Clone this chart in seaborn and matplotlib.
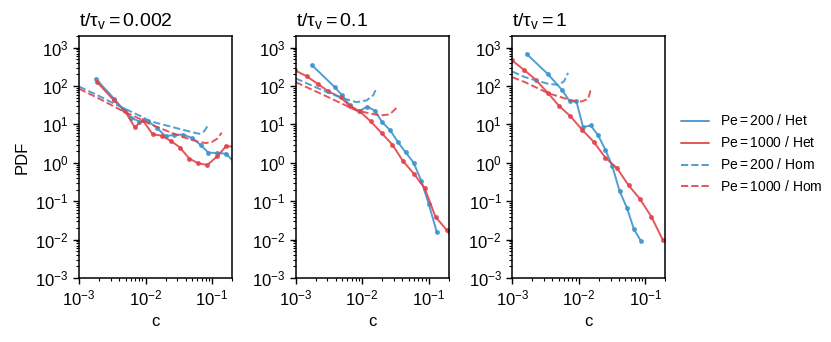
import numpy as np
import pandas as pd
import matplotlib
matplotlib.use("Agg")
import matplotlib.pyplot as plt
from matplotlib.lines import Line2D
from matplotlib.ticker import LogLocator, NullFormatter
import seaborn as sns

sns.set_style("ticks")
plt.rcParams['font.family'] = ['Liberation Sans', 'DejaVu Sans']
plt.rcParams['mathtext.fontset'] = 'custom'
plt.rcParams['mathtext.rm'] = 'Liberation Sans'
plt.rcParams['mathtext.it'] = 'Liberation Sans:italic'
plt.rcParams['mathtext.bf'] = 'Liberation Sans:bold'
for key in ['text.color', 'axes.labelcolor', 'xtick.color', 'ytick.color', 'axes.edgecolor']:
    plt.rcParams[key] = 'black'

# panel titles (t / tau_v)
times = ['0.002', '0.1', '1']

# ---- t/tau_v = 0.002 ----
c_het200_a = [0.00179, 0.00336, 0.00458, 0.00612, 0.0081, 0.0108, 0.01475, 0.020, 0.027, 0.0369, 0.0508, 0.0678, 0.088, 0.12, 0.163, 0.22]
p_het200_a = [154, 47, 25, 15, 11.8, 12.2, 8.2, 4.9, 5.4, 5.4, 4.4, 2.9, 1.84, 1.8, 1.73, 1.0]
c_het1000_a = [0.00187, 0.00336, 0.00486, 0.00686, 0.00912, 0.01285, 0.0175, 0.0242, 0.033, 0.0454, 0.0625, 0.0851, 0.12, 0.163, 0.22]
p_het1000_a = [126, 42, 23, 8.5, 12.7, 5.5, 5.1, 3.7, 2.5, 1.29, 0.97, 0.88, 1.48, 2.73, 2.6]
c_hom200_a = [0.001, 0.002, 0.004, 0.0091, 0.0115, 0.02, 0.036, 0.05, 0.064, 0.076, 0.082, 0.088]
p_hom200_a = [97, 55, 30, 15.5, 12.2, 9.5, 7.3, 6.3, 5.7, 6.6, 8.0, 10.4]
c_hom1000_a = [0.001, 0.002, 0.004, 0.0091, 0.0115, 0.02, 0.036, 0.06, 0.0805, 0.1, 0.12, 0.14]
p_hom1000_a = [85, 47, 25, 12.8, 10.4, 7.0, 4.7, 3.6, 3.27, 3.5, 4.25, 6.1]

# ---- t/tau_v = 0.1 ----
c_het200_b = [0.00174, 0.00388, 0.0049, 0.0065, 0.0089, 0.01186, 0.0155, 0.0199, 0.0265, 0.0345, 0.045, 0.0594, 0.0775, 0.1, 0.133]
p_het200_b = [355, 93, 59, 32, 21.8, 29, 23, 11.5, 7.0, 3.47, 1.88, 1.01, 0.34, 0.087, 0.0154]
c_het1000_b = [0.00098, 0.00146, 0.00214, 0.00308, 0.00473, 0.0065, 0.0092, 0.01345, 0.0197, 0.0284, 0.0411, 0.060, 0.087, 0.127, 0.1875, 0.26]
p_het1000_b = [255, 180, 114, 73, 51, 30, 21.8, 12, 5.9, 3.0, 1.11, 0.52, 0.22, 0.039, 0.0177, 0.008]
c_hom200_b = [0.001, 0.0026, 0.0046, 0.0082, 0.0116, 0.0146, 0.016]
p_hom200_b = [158, 76, 51, 38, 42, 57, 79]
c_hom1000_b = [0.001, 0.0026, 0.0082, 0.0184, 0.026, 0.0319, 0.033]
p_hom1000_b = [126, 59, 23, 17.1, 18.2, 25.6, 31]

# ---- t/tau_v = 1 ----
c_het200_c = [0.00164, 0.00347, 0.0056, 0.0073, 0.0092, 0.0116, 0.0151, 0.0195, 0.0251, 0.032, 0.041, 0.053, 0.0675, 0.086]
p_het200_c = [686, 200, 79, 40, 40, 8.5, 9.4, 5.2, 2.2, 0.81, 0.185, 0.067, 0.0187, 0.0092]
c_het1000_c = [0.00098, 0.0015, 0.00226, 0.0034, 0.005, 0.0075, 0.0112, 0.0168, 0.0251, 0.0375, 0.056, 0.083, 0.124, 0.184]
p_het1000_c = [470, 263, 145, 67, 31, 16.2, 7.3, 3.5, 1.36, 0.73, 0.26, 0.115, 0.039, 0.0097]
c_hom200_c = [0.001, 0.00155, 0.00347, 0.005, 0.006, 0.0069]
p_hom200_c = [238, 170, 114, 107, 133, 220]
c_hom1000_c = [0.001, 0.00155, 0.00347, 0.0078, 0.011, 0.0138, 0.0151]
p_hom1000_c = [170, 126, 65, 42, 39.5, 46, 79]

pe_values = ['200', '1000', '200', '1000']
cases = ['Het', 'Het', 'Hom', 'Hom']
panels = [
    [(c_het200_a, p_het200_a), (c_het1000_a, p_het1000_a), (c_hom200_a, p_hom200_a), (c_hom1000_a, p_hom1000_a)],
    [(c_het200_b, p_het200_b), (c_het1000_b, p_het1000_b), (c_hom200_b, p_hom200_b), (c_hom1000_b, p_hom1000_b)],
    [(c_het200_c, p_het200_c), (c_het1000_c, p_het1000_c), (c_hom200_c, p_hom200_c), (c_hom1000_c, p_hom1000_c)],
]

blue = '#3e94cd'
red = '#e2434a'
colors = [blue, red, blue, red]
styles = ['-', '-', '--', '--']

fig = plt.figure(figsize=(8.31, 3.42), dpi=100)
lefts = [0.0951, 0.3558, 0.6165]
axes = [fig.add_axes([l, 0.187, 0.1841, 0.7076]) for l in lefts]

for k, ax in enumerate(axes):
    for j, (cc, pp) in enumerate(panels[k]):
        df = pd.DataFrame({'c': cc, 'pdf': pp})
        het = cases[j] == 'Het'
        sns.lineplot(data=df, x='c', y='pdf', ax=ax, sort=False, estimator=None,
                     color=colors[j], linestyle=styles[j], lw=1.4, alpha=0.9,
                     marker='o' if het else None, markersize=3.5 if het else 0,
                     markeredgewidth=0, legend=False)
    ax.set_xscale('log')
    ax.set_yscale('log')
    ax.set_xlim(1e-3, 0.2)
    ax.set_ylim(1e-3, 2e3)
    ax.yaxis.set_major_locator(LogLocator(base=10, numticks=10))
    ax.yaxis.set_minor_locator(LogLocator(base=10, subs=np.arange(2, 10), numticks=20))
    ax.yaxis.set_minor_formatter(NullFormatter())
    ax.xaxis.set_major_locator(LogLocator(base=10, numticks=10))
    ax.xaxis.set_minor_locator(LogLocator(base=10, subs=np.arange(2, 10), numticks=20))
    ax.xaxis.set_minor_formatter(NullFormatter())
    ax.tick_params(which='major', direction='out', length=4, width=1, labelsize=12)
    ax.tick_params(which='minor', direction='out', length=2, width=0.8)
    for s in ax.spines.values():
        s.set_linewidth(1.1)
    ax.set_xlabel('c', fontsize=12)
    ax.set_ylabel('PDF' if k == 0 else '', fontsize=12)
    ax.set_title(r'$\mathregular{t/\tau_v = ' + times[k] + '}$', loc='left', fontsize=14, pad=7)

handles = [Line2D([], [], color=colors[j], linestyle=styles[j], lw=1.4, alpha=0.9) for j in range(4)]
labels = [r'$\mathregular{Pe = ' + pe_values[j] + '}$ / ' + cases[j] for j in range(4)]
fig.legend(handles, labels, loc='center left', bbox_to_anchor=(0.805, 0.55), frameon=False, fontsize=10)

fig.savefig('out.png', dpi=100)
